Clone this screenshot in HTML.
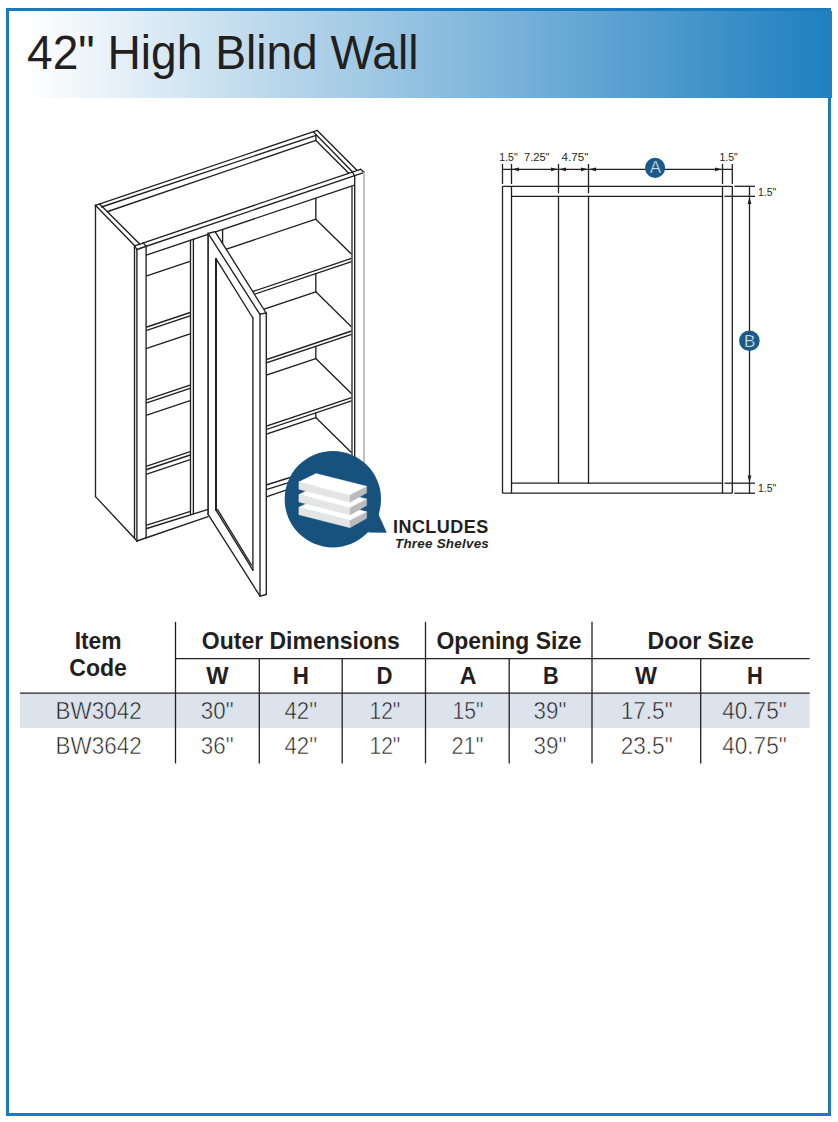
<!DOCTYPE html>
<html><head><meta charset="utf-8">
<style>
html,body{margin:0;padding:0;background:#fff;}
body{width:838px;height:1122px;position:relative;overflow:hidden;font-family:"Liberation Sans",sans-serif;color:#231f20;}
#frame{position:absolute;left:6px;top:8px;width:819px;height:1102px;border:3px solid #1a7abf;}
#hdr{position:absolute;left:9px;top:11px;width:823px;height:87px;background:linear-gradient(90deg,#ffffff 2%,#1f7fc0 100%);}
#title{position:absolute;left:26.5px;top:24px;font-size:48.5px;line-height:56px;white-space:nowrap;color:#231f20;transform:scaleX(0.951);transform-origin:0 0;}
svg{position:absolute;left:0;top:0;}
.t{position:absolute;white-space:nowrap;}
</style></head>
<body>
<div id="frame"></div>
<div id="hdr"></div>
<div id="title">42" High Blind Wall</div>

<svg id="draw" width="838" height="1122" viewBox="0 0 838 1122">
  <!-- right elevation diagram -->
  <g stroke="#231f20" stroke-width="1.3" fill="none">
    <line x1="502.5" y1="186.3" x2="732.3" y2="186.3"/>
    <line x1="502.5" y1="493.2" x2="732.3" y2="493.2"/>
    <line x1="502.5" y1="186.3" x2="502.5" y2="493.2"/>
    <line x1="732.3" y1="186.3" x2="732.3" y2="493.2"/>
    <line x1="511.5" y1="186.3" x2="511.5" y2="493.2"/>
    <line x1="722.5" y1="186.3" x2="722.5" y2="493.2"/>
    <line x1="511.5" y1="196.3" x2="722.5" y2="196.3"/>
    <line x1="511.5" y1="483.2" x2="722.5" y2="483.2"/>
    <line x1="558.5" y1="164" x2="558.5" y2="193.3"/><line x1="558.5" y1="196.3" x2="558.5" y2="483.2"/>
    <line x1="588.5" y1="164" x2="588.5" y2="193.3"/><line x1="588.5" y1="196.3" x2="588.5" y2="483.2"/>
    <line x1="502.5" y1="164" x2="502.5" y2="184"/>
    <line x1="511.5" y1="164" x2="511.5" y2="184"/>
    <line x1="722.5" y1="164" x2="722.5" y2="184"/>
    <line x1="732.3" y1="164" x2="732.3" y2="184"/>
    <line x1="502.5" y1="169.3" x2="732.3" y2="169.3"/>
    <line x1="734.3" y1="186.3" x2="755" y2="186.3"/>
    <line x1="724.5" y1="196.3" x2="755" y2="196.3"/>
    <line x1="724.5" y1="483.2" x2="755" y2="483.2"/>
    <line x1="734.3" y1="493.2" x2="755" y2="493.2"/>
    <line x1="749.5" y1="186.3" x2="749.5" y2="493.2"/>
  </g>
  <g fill="#231f20">
    <path d="M512 169.3 l7 -1.9 v3.8z M558 169.3 l-7 -1.9 v3.8z M559 169.3 l7 -1.9 v3.8z M588 169.3 l-7 -1.9 v3.8z M589 169.3 l7 -1.9 v3.8z M722 169.3 l-7 -1.9 v3.8z"/>
    <path d="M749.5 197 l-1.9 7 h3.8z M749.5 482.5 l-1.9 -7 h3.8z"/>
  </g>
  <circle cx="655.1" cy="167.8" r="10.1" fill="#1a5a8a"/>
  <circle cx="749.4" cy="340.7" r="10.3" fill="#1a5a8a"/>
  <text x="655.3" y="172.8" font-size="17" fill="#fff" stroke="#1a5a8a" stroke-width="0.5" text-anchor="middle" font-family="Liberation Sans">A</text>
  <text x="749.6" y="347.0" font-size="17" fill="#fff" stroke="#1a5a8a" stroke-width="0.5" text-anchor="middle" font-family="Liberation Sans">B</text>
  <g font-size="10.5" fill="#231f20" font-family="Liberation Sans">
    <text x="499.3" y="160.8">1.5"</text>
    <text x="524" y="160.8" textLength="25.5" lengthAdjust="spacingAndGlyphs">7.25"</text>
    <text x="561.5" y="160.8" textLength="26.8" lengthAdjust="spacingAndGlyphs">4.75"</text>
    <text x="719.4" y="160.8">1.5"</text>
    <text x="758" y="195.8">1.5"</text>
    <text x="758" y="491.8">1.5"</text>
  </g>

  <!-- CAB -->
<g id="cab" stroke="#231f20" stroke-width="1.35" fill="none" stroke-linecap="round">
<line x1="146.8" y1="275.8" x2="315.8" y2="219.2"/>
<line x1="146.8" y1="327.0" x2="351.6" y2="258.4"/>
<line x1="146.8" y1="330.3" x2="351.6" y2="261.7"/>
<line x1="315.8" y1="219.2" x2="351.6" y2="254.3"/>
<line x1="146.8" y1="348.4" x2="315.8" y2="291.8"/>
<line x1="146.8" y1="399.6" x2="351.6" y2="331.0"/>
<line x1="146.8" y1="402.9" x2="351.6" y2="334.3"/>
<line x1="315.8" y1="291.8" x2="351.6" y2="326.9"/>
<line x1="146.8" y1="415.2" x2="315.8" y2="358.6"/>
<line x1="146.8" y1="466.2" x2="351.6" y2="397.6"/>
<line x1="146.8" y1="469.5" x2="351.6" y2="400.9"/>
<line x1="315.8" y1="358.6" x2="351.6" y2="393.7"/>
<line x1="146.8" y1="474.2" x2="315.8" y2="417.6"/>
<line x1="315.8" y1="417.6" x2="351.6" y2="452.7"/>
<line x1="315.8" y1="198.4" x2="315.8" y2="219.2"/>
<line x1="315.8" y1="273.7" x2="315.8" y2="291.8"/>
<line x1="315.8" y1="346.3" x2="315.8" y2="358.6"/>
<line x1="315.8" y1="412.9" x2="315.8" y2="417.6"/>
<line x1="146.8" y1="525.1" x2="190.5" y2="511.3"/>
<line x1="266.2" y1="485.0" x2="351.6" y2="458.1"/>
<line x1="222.6" y1="229.7" x2="222.6" y2="243.0"/>
<polygon points="134.5,246.0 146.1,244.0 146.1,538.0 136.9,541.0 134.5,538.3" fill="#fff" stroke="none"/>
<polygon points="190.5,240.4 208.2,234.5 208.2,509.3 190.5,514.8" fill="#fff" stroke="none"/>
<polygon points="352.2,185.8 364.0,171.0 364.0,480.0 352.2,480.0" fill="#fff" stroke="none"/>
<polygon points="208.1,233.5 215.0,231.7 266.1,313.0 266.3,314.0 266.3,594.5 260.0,596.1 208.1,514.3" fill="#fff" stroke="none"/>
<polygon points="134.7,245.7 95.4,205.3 317.3,130.4 364.3,172.4 354.4,185.1 146.3,255.1" fill="#fff" stroke="none"/>
<polygon points="146.8,528.5 208.2,509.3 266.2,489.7 351.6,462.8 351.6,470.2 137.6,541.0" fill="#fff" stroke="none"/>
<line x1="95.5" y1="205.3" x2="95.5" y2="496.6"/>
<line x1="95.5" y1="496.6" x2="134.5" y2="538.3"/>
<line x1="95.4" y1="205.3" x2="134.7" y2="245.7"/>
<line x1="99.6" y1="204.1" x2="139.7" y2="244.1"/>
<line x1="95.4" y1="205.3" x2="317.3" y2="130.4"/>
<line x1="101.5" y1="207.0" x2="316.0" y2="135.3"/>
<line x1="107.8" y1="211.5" x2="315.9" y2="140.4"/>
<line x1="315.9" y1="135.3" x2="315.9" y2="140.4"/>
<line x1="317.3" y1="130.4" x2="357.2" y2="170.4"/>
<line x1="313.5" y1="132.0" x2="352.4" y2="171.8"/>
<line x1="315.9" y1="140.4" x2="348.6" y2="172.9"/>
<line x1="134.7" y1="245.8" x2="360.4" y2="169.3"/>
<line x1="136.8" y1="249.5" x2="364.3" y2="172.4"/>
<line x1="134.7" y1="245.8" x2="136.8" y2="249.5"/>
<line x1="143.3" y1="242.9" x2="146.1" y2="246.4"/>
<line x1="352.4" y1="171.8" x2="354.4" y2="175.8"/>
<line x1="360.4" y1="169.3" x2="364.3" y2="172.4"/>
<line x1="146.3" y1="255.1" x2="354.4" y2="185.1"/>
<line x1="134.5" y1="245.8" x2="134.5" y2="538.3"/>
<line x1="136.9" y1="249.5" x2="136.9" y2="541.0"/>
<line x1="146.1" y1="246.4" x2="146.1" y2="538.0"/>
<line x1="134.5" y1="538.3" x2="136.9" y2="541.0"/>
<line x1="352.0" y1="185.8" x2="352.0" y2="470.0" stroke="#5a5454" stroke-width="1.7"/>
<line x1="354.7" y1="175.8" x2="354.7" y2="470.0"/>
<line x1="364.0" y1="172.4" x2="364.0" y2="470.0" stroke="#bcbcbc" stroke-width="1.8"/>
<line x1="190.5" y1="240.2" x2="190.5" y2="514.7"/>
<line x1="193.4" y1="239.2" x2="193.4" y2="513.8"/>
<line x1="136.9" y1="541.0" x2="208.1" y2="516.7"/>
<line x1="146.8" y1="528.5" x2="208.1" y2="509.3"/>
<line x1="266.3" y1="496.9" x2="352.2" y2="467.4"/>
<line x1="266.3" y1="489.7" x2="352.2" y2="462.8"/>
<polygon points="208.1,233.5 215,231.7 266.1,313 266.3,314 266.3,594.5 260,596.1 208.1,514.3" fill="#fff" stroke="none"/>
<line x1="215.0" y1="231.7" x2="222.2" y2="242.8"/>
<line x1="222.2" y1="242.8" x2="266.1" y2="313.0"/>
<line x1="208.1" y1="233.5" x2="215.0" y2="231.7"/>
<line x1="208.6" y1="234.2" x2="259.8" y2="314.2"/>
<line x1="259.8" y1="314.2" x2="266.1" y2="313.0"/>
<line x1="260.0" y1="314.2" x2="260.0" y2="596.1"/>
<line x1="266.3" y1="313.0" x2="266.3" y2="594.5"/>
<line x1="260.0" y1="596.1" x2="266.3" y2="594.5"/>
<line x1="208.1" y1="514.3" x2="260.0" y2="596.1"/>
<line x1="208.1" y1="233.5" x2="208.1" y2="514.3" stroke-width="1.8" stroke="#333"/>
<line x1="216.0" y1="258.7" x2="252.9" y2="318.0"/>
<line x1="252.9" y1="318.0" x2="252.9" y2="570.2"/>
<line x1="216.0" y1="510.1" x2="252.9" y2="570.2"/>
<line x1="216.0" y1="258.7" x2="216.0" y2="510.1" stroke-width="2"/>
<line x1="217.6" y1="509.7" x2="251.5" y2="565.0"/>
</g>
<!-- /CAB -->
  <!-- shelves icon -->
  <g>
    <circle cx="332.85" cy="499.2" r="48.2" fill="#17527f"/>
    <path d="M377.5 512 L386.8 532.8 L368 532.5 Z" fill="#17527f"/>
    <polygon points="298.9,507.3 350,520.3 350,527.7 298.9,514.7" fill="#e5e5e5" stroke="#e5e5e5" stroke-width="0.4"/><polygon points="350,520.3 366.7,511.7 366.7,518.3 350,527.7" fill="#bbbbbd" stroke="#bbbbbd" stroke-width="0.4"/><polygon points="298.9,507.3 316,499.0 366.7,511.7 350,520.3" fill="#ffffff" stroke="#ffffff" stroke-width="0.4"/><polygon points="298.9,494.6 350,507.6 350,515.0 298.9,502.0" fill="#e5e5e5" stroke="#e5e5e5" stroke-width="0.4"/><polygon points="350,507.6 366.7,499.0 366.7,505.6 350,515.0" fill="#bbbbbd" stroke="#bbbbbd" stroke-width="0.4"/><polygon points="298.9,494.6 316,486.3 366.7,499.0 350,507.6" fill="#ffffff" stroke="#ffffff" stroke-width="0.4"/><polygon points="298.9,481.9 350,494.9 350,502.3 298.9,489.3" fill="#e5e5e5" stroke="#e5e5e5" stroke-width="0.4"/><polygon points="350,494.9 366.7,486.3 366.7,492.9 350,502.3" fill="#bbbbbd" stroke="#bbbbbd" stroke-width="0.4"/><polygon points="298.9,481.9 316,473.6 366.7,486.3 350,494.9" fill="#ffffff" stroke="#ffffff" stroke-width="0.4"/>
  </g>
</svg>

<div class="t" style="left:393px;top:517px;font-size:18px;line-height:20px;font-weight:bold;letter-spacing:0.45px;">INCLUDES</div>
<div class="t" style="left:395px;top:535.5px;font-size:13.4px;line-height:16px;font-weight:bold;font-style:italic;letter-spacing:0.25px;">Three Shelves</div>

<!-- table -->
<svg id="tbl" width="838" height="1122" viewBox="0 0 838 1122" style="position:absolute;left:0;top:0">
  <rect x="20" y="693.5" width="789.7" height="34.6" fill="#dde3ec"/>
  <g stroke="#231f20" stroke-width="1.3">
    <line x1="175.5" y1="621.8" x2="175.5" y2="763.4"/>
    <line x1="425.5" y1="621.8" x2="425.5" y2="763.4"/>
    <line x1="592.0" y1="621.8" x2="592.0" y2="763.4"/>
    <line x1="259.3" y1="658.6" x2="259.3" y2="763.4"/>
    <line x1="342.2" y1="658.6" x2="342.2" y2="763.4"/>
    <line x1="509.2" y1="658.6" x2="509.2" y2="763.4"/>
    <line x1="700.7" y1="658.6" x2="700.7" y2="763.4"/>
    <line x1="175.5" y1="658.6" x2="809.7" y2="658.6"/>
    <line x1="20" y1="693.2" x2="809.7" y2="693.2"/>
  </g>
  <g font-family="Liberation Sans" font-weight="bold" font-size="24.1" fill="#231f20" text-anchor="middle">
<text x="98.1" y="648.9" textLength="46.9" lengthAdjust="spacingAndGlyphs">Item</text>
<text x="98.1" y="675.6" textLength="57.7" lengthAdjust="spacingAndGlyphs">Code</text>
<text x="300.8" y="648.9" textLength="197.9" lengthAdjust="spacingAndGlyphs">Outer Dimensions</text>
<text x="509.0" y="648.9" textLength="145.1" lengthAdjust="spacingAndGlyphs">Opening Size</text>
<text x="700.6" y="648.9" textLength="106.2" lengthAdjust="spacingAndGlyphs">Door Size</text>
<text x="217.5" y="683.7" textLength="22.3" lengthAdjust="spacingAndGlyphs">W</text>
<text x="300.8" y="683.7" textLength="16.1" lengthAdjust="spacingAndGlyphs">H</text>
<text x="384.6" y="683.7" textLength="16.0" lengthAdjust="spacingAndGlyphs">D</text>
<text x="468.1" y="683.7" textLength="16.7" lengthAdjust="spacingAndGlyphs">A</text>
<text x="550.8" y="683.7" textLength="15.7" lengthAdjust="spacingAndGlyphs">B</text>
<text x="646.1" y="683.7" textLength="22.0" lengthAdjust="spacingAndGlyphs">W</text>
<text x="755.0" y="683.7" textLength="15.8" lengthAdjust="spacingAndGlyphs">H</text>
  </g>
  <g font-family="Liberation Sans" font-size="24.2" fill="#231f20" text-anchor="middle">
<g stroke="#dde3ec" stroke-width="0.55">
<text x="98.6" y="718.9" textLength="86.1" lengthAdjust="spacingAndGlyphs">BW3042</text>
<text x="217.2" y="718.9" textLength="32.8" lengthAdjust="spacingAndGlyphs">30&quot;</text>
<text x="300.8" y="718.9" textLength="32.7" lengthAdjust="spacingAndGlyphs">42&quot;</text>
<text x="384.9" y="718.9" textLength="30.9" lengthAdjust="spacingAndGlyphs">12&quot;</text>
<text x="467.9" y="718.9" textLength="31.0" lengthAdjust="spacingAndGlyphs">15&quot;</text>
<text x="550.0" y="718.9" textLength="32.8" lengthAdjust="spacingAndGlyphs">39&quot;</text>
<text x="646.7" y="718.9" textLength="52.1" lengthAdjust="spacingAndGlyphs">17.5&quot;</text>
<text x="754.5" y="718.9" textLength="64.5" lengthAdjust="spacingAndGlyphs">40.75&quot;</text>
</g>
<g stroke="#ffffff" stroke-width="0.55">
<text x="98.6" y="754.1" textLength="86.1" lengthAdjust="spacingAndGlyphs">BW3642</text>
<text x="217.2" y="754.1" textLength="32.8" lengthAdjust="spacingAndGlyphs">36&quot;</text>
<text x="300.8" y="754.1" textLength="32.7" lengthAdjust="spacingAndGlyphs">42&quot;</text>
<text x="384.9" y="754.1" textLength="30.9" lengthAdjust="spacingAndGlyphs">12&quot;</text>
<text x="467.4" y="754.1" textLength="32.0" lengthAdjust="spacingAndGlyphs">21&quot;</text>
<text x="550.0" y="754.1" textLength="32.8" lengthAdjust="spacingAndGlyphs">39&quot;</text>
<text x="646.7" y="754.1" textLength="52.1" lengthAdjust="spacingAndGlyphs">23.5&quot;</text>
<text x="754.5" y="754.1" textLength="64.5" lengthAdjust="spacingAndGlyphs">40.75&quot;</text>
</g>
  </g>
</svg>
</body></html>
